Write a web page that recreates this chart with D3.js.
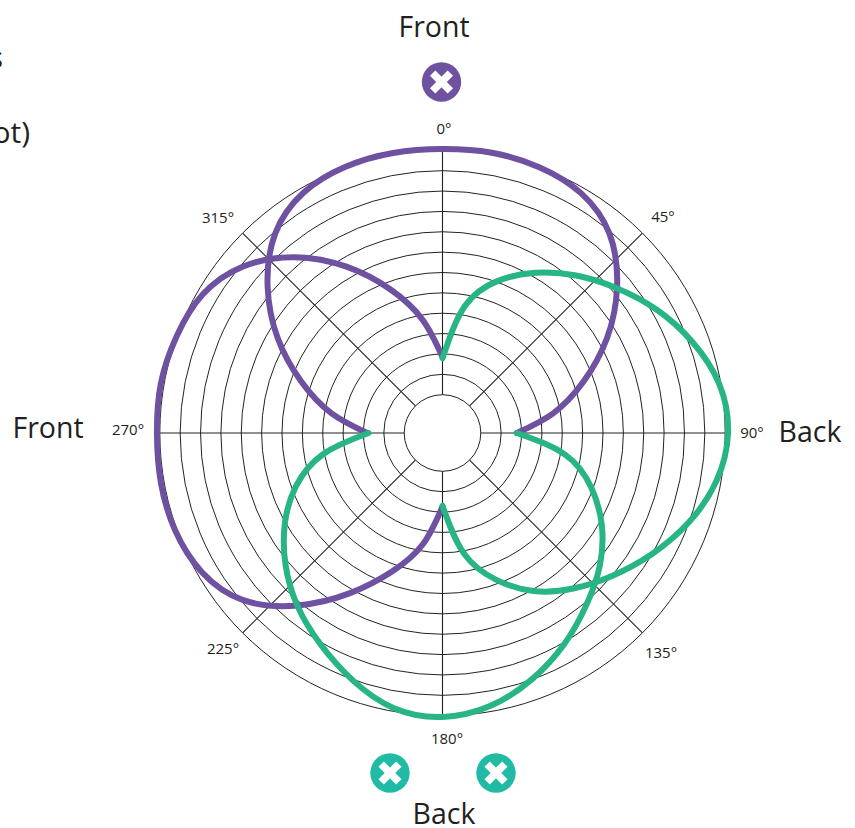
<!DOCTYPE html>
<html>
<head>
<meta charset="utf-8">
<script src="https://cdn.jsdelivr.net/npm/d3@7"></script>
<style>
  html, body { margin: 0; background: #fff; }
  svg { display: block; }
  text { font-family: "Open Sans", sans-serif; fill: #231f20; }
</style>
</head>
<body>
<svg id="polar"></svg>
<script>
// level = ring number counted out from the inner circle
const ringLevels = [0, 1, 2, 3, 4, 5, 6, 7, 8, 9, 10, 11, 12];
const spokeAngles = [0, 45, 90, 135, 180, 225, 270, 315];
const tickLabels = ["0°", "45°", "90°", "135°", "180°", "225°", "270°", "315°"];

// each lobe is sampled every 10 degrees, starting from its own first angle
const frontAngles = [-90, -80, -70, -60, -50, -40, -30, -20, -10, 0, 10, 20, 30, 40, 50, 60, 70, 80, 90];
const frontLevels = [1.82, 3.65, 5.50, 7.47, 9.33, 10.90, 11.75, 12.03, 12.08, 12.06, 12.09, 12.01, 11.72, 10.88, 9.31, 7.45, 5.48, 3.62, 1.77];

const leftAngles = [180, 190, 200, 210, 220, 230, 240, 250, 260, 270, 280, 290, 300, 310, 320, 330, 340, 350, 360];
const leftLevels = [1.74, 3.67, 5.36, 7.20, 9.17, 10.89, 11.77, 12.09, 12.16, 12.14, 12.16, 12.01, 11.72, 10.86, 9.39, 7.55, 5.63, 3.77, 1.85];

const rightAngles = [0, 10, 20, 30, 40, 50, 60, 70, 80, 90, 100, 110, 120, 130, 140, 150, 160, 170, 180];
const rightLevels = [1.79, 4.45, 6.07, 7.20, 8.23, 9.22, 10.25, 11.18, 11.92, 12.14, 11.77, 10.98, 10.00, 9.02, 8.09, 7.08, 5.78, 4.11, 1.70];

const backAngles = [90, 100, 110, 120, 130, 140, 150, 160, 170, 180, 190, 200, 210, 220, 230, 240, 250, 260, 270];
const backLevels = [1.77, 4.23, 5.88, 7.15, 8.21, 9.12, 10.08, 10.98, 11.72, 12.06, 11.84, 11.03, 10.10, 9.20, 8.18, 7.06, 5.78, 4.06, 1.75];

const width = 855, height = 828;
const cx = 442.5, cy = 433;
const purple = "#6f51a1", green = "#27b585", teal = "#20bba5";

const svg = d3.select("svg#polar")
    .attr("width", width)
    .attr("height", height)
    .attr("viewBox", [0, 0, width, height].join(" "));

const chart = svg.append("g")
    .attr("transform", `translate(${cx}, ${cy})`);

const r = d3.scaleLinear().domain([0, 12]).range([38.3, 282.7]);
const a = d3.scaleLinear().domain([0, 360]).range([0, 2 * Math.PI]);

// grid
chart.append("g")
    .selectAll("circle")
    .data(ringLevels)
    .enter()
    .append("circle")
    .attr("r", d => r(d))
    .attr("fill", "none")
    .attr("stroke", "#222")
    .attr("stroke-width", 1);

chart.append("g")
    .selectAll("line")
    .data(spokeAngles)
    .enter()
    .append("line")
    .attr("x1", d => r(0) * Math.sin(a(d)))
    .attr("y1", d => -r(0) * Math.cos(a(d)))
    .attr("x2", d => r(12) * Math.sin(a(d)))
    .attr("y2", d => -r(12) * Math.cos(a(d)))
    .attr("stroke", "#222")
    .attr("stroke-width", 1.1);

// lobes, green goes on top at the cusps
const radial = d3.lineRadial()
    .angle(d => a(d[0]))
    .radius(d => r(d[1]))
    .curve(d3.curveNatural);

const lobes = [
    { angles: frontAngles, levels: frontLevels, color: purple },
    { angles: leftAngles, levels: leftLevels, color: purple },
    { angles: rightAngles, levels: rightLevels, color: green },
    { angles: backAngles, levels: backLevels, color: green }
];

chart.append("g")
    .selectAll("path")
    .data(lobes)
    .enter()
    .append("path")
    .attr("d", d => radial(d3.zip(d.angles, d.levels)))
    .attr("fill", "none")
    .attr("stroke", d => d.color)
    .attr("stroke-width", 6)
    .attr("stroke-linecap", "round");

// degree labels were not placed on one radius, so they go by hand
const labelX = [444, 663, 752, 661, 447, 223, 128, 218];
const labelY = [129, 217, 433, 653, 739, 649, 430, 218];

svg.append("g")
    .selectAll("text")
    .data(tickLabels)
    .enter()
    .append("text")
    .attr("x", (d, i) => labelX[i])
    .attr("y", (d, i) => labelY[i])
    .attr("dy", ".35em")
    .attr("text-anchor", "middle")
    .attr("font-size", 15)
    .text(d => d);

// big direction labels
const sideLabels = [
    { text: "Front", x: 434, y: 37 },
    { text: "Back", x: 810, y: 442 },
    { text: "Front", x: 48, y: 438 },
    { text: "Back", x: 444, y: 824 }
];

svg.append("g")
    .selectAll("text")
    .data(sideLabels)
    .enter()
    .append("text")
    .attr("x", d => d.x)
    .attr("y", d => d.y)
    .attr("text-anchor", "middle")
    .attr("font-size", 28.5)
    .text(d => d.text);

// cut off legend text at the left edge
const clippedText = [
    { text: "s", x: 3, y: 68 },
    { text: "ot)", x: 30, y: 143 }
];

svg.append("g")
    .selectAll("text")
    .data(clippedText)
    .enter()
    .append("text")
    .attr("x", d => d.x)
    .attr("y", d => d.y)
    .attr("text-anchor", "end")
    .attr("font-size", 30)
    .text(d => d.text);

// null markers
const markers = [
    { x: 441.5, y: 82, color: purple },
    { x: 390, y: 773, color: teal },
    { x: 496, y: 773, color: teal }
];

const marker = svg.append("g")
    .selectAll("g")
    .data(markers)
    .enter()
    .append("g")
    .attr("transform", d => `translate(${d.x}, ${d.y})`);

marker.append("circle")
    .attr("r", 19.7)
    .attr("fill", d => d.color);

marker.append("path")
    .attr("d", "M-12.5,0H12.5M0,-12.5V12.5")
    .attr("transform", "rotate(45)")
    .attr("stroke", "#fff")
    .attr("stroke-width", 7.6);
</script>
</body>
</html>
